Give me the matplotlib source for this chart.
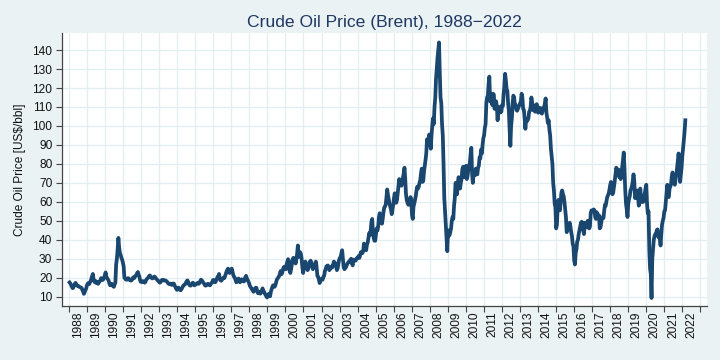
import matplotlib
matplotlib.use("Agg")
import matplotlib.pyplot as plt
import numpy as np

# Semi-monthly Brent prices (US$/bbl), two values per month
p1988 = [17.5, 17.0, 16.2, 15.4, 14.5, 14.8, 15.8, 16.8, 17.3, 16.2, 16.0, 15.6, 15.6, 15.2, 15.0, 14.8, 14.6, 13.6, 12.8, 11.5, 12.3, 13.5, 14.2, 15.8]
p1989 = [16.8, 17.2, 16.6, 17.4, 18.2, 19.5, 21.0, 22.0, 19.0, 18.0, 17.5, 18.2, 17.2, 17.8, 16.8, 17.5, 18.0, 18.6, 19.8, 19.2, 18.8, 19.2, 20.0, 21.5]
p1990 = [22.8, 20.5, 19.8, 19.0, 18.5, 17.0, 16.0, 16.5, 16.8, 16.2, 15.5, 15.2, 16.5, 17.5, 27.0, 30.0, 35.0, 41.0, 36.0, 33.0, 32.0, 30.5, 29.5, 28.0]
p1991 = [26.0, 20.0, 19.5, 19.0, 19.5, 19.0, 19.8, 19.5, 18.8, 18.6, 18.5, 18.8, 19.8, 20.2, 19.8, 20.5, 21.0, 21.5, 22.5, 23.0, 21.5, 20.5, 18.5, 17.8]
p1992 = [18.0, 17.8, 18.2, 17.9, 17.4, 17.8, 18.8, 19.4, 19.8, 20.2, 21.0, 21.2, 20.4, 20.0, 19.6, 19.8, 20.4, 20.6, 20.3, 19.6, 19.2, 18.8, 18.3, 18.0]
p1993 = [17.4, 17.6, 18.4, 18.8, 18.9, 18.5, 18.7, 18.6, 18.5, 18.2, 17.8, 17.2, 16.8, 16.6, 16.8, 16.9, 16.2, 16.5, 17.0, 16.8, 15.8, 15.0, 14.2, 13.6]
p1994 = [14.4, 14.8, 13.8, 13.6, 13.4, 14.0, 14.8, 15.5, 16.1, 16.3, 16.6, 17.4, 18.2, 18.6, 17.6, 16.6, 16.0, 15.8, 16.2, 16.8, 17.4, 17.0, 16.0, 16.2]
p1995 = [16.4, 16.8, 17.0, 17.4, 16.8, 17.3, 18.2, 19.0, 18.6, 18.2, 17.4, 17.0, 16.2, 15.8, 16.0, 16.3, 16.8, 16.5, 16.2, 16.0, 16.7, 17.2, 17.8, 18.8]
p1996 = [18.8, 17.8, 17.6, 18.4, 19.2, 20.4, 20.2, 22.0, 19.6, 18.6, 18.4, 19.0, 19.5, 20.0, 19.8, 20.8, 22.0, 23.2, 24.2, 24.8, 23.0, 22.5, 23.5, 24.0]
p1997 = [24.8, 23.2, 21.5, 20.5, 20.0, 18.8, 17.6, 17.8, 18.8, 19.6, 18.4, 17.6, 18.6, 19.2, 18.6, 19.0, 18.0, 18.6, 20.2, 21.0, 19.6, 19.0, 18.0, 17.2]
p1998 = [15.8, 15.2, 14.5, 13.8, 13.2, 12.6, 14.0, 13.5, 14.8, 14.6, 12.6, 11.8, 12.6, 12.0, 11.6, 12.2, 13.2, 14.4, 13.0, 12.6, 11.6, 11.0, 10.2, 9.6]
p1999 = [10.8, 11.4, 10.5, 10.2, 12.5, 13.8, 15.2, 16.0, 15.8, 15.2, 16.0, 17.4, 19.0, 19.6, 20.2, 20.8, 22.0, 23.5, 21.8, 22.4, 24.0, 25.5, 25.8, 25.2]
p2000 = [24.5, 27.0, 28.5, 29.8, 28.5, 23.5, 22.5, 24.5, 27.0, 29.5, 30.5, 29.0, 29.5, 27.5, 30.0, 32.5, 37.0, 31.0, 31.5, 33.5, 32.5, 30.0, 25.5, 22.5]
p2001 = [25.0, 28.0, 28.5, 27.0, 25.0, 24.0, 25.0, 27.0, 28.5, 29.0, 28.0, 26.0, 24.5, 25.5, 26.5, 27.0, 28.5, 25.5, 21.0, 20.5, 19.0, 17.2, 18.5, 19.2]
p2002 = [19.5, 19.0, 20.5, 21.0, 23.5, 24.5, 26.0, 25.5, 26.5, 25.0, 24.0, 24.8, 25.0, 26.0, 25.5, 27.0, 28.5, 28.0, 27.5, 26.0, 24.0, 25.0, 27.5, 29.5]
p2003 = [30.5, 31.0, 33.0, 34.5, 30.0, 25.5, 24.5, 25.0, 25.5, 26.5, 27.5, 28.0, 28.5, 28.5, 29.5, 30.0, 27.5, 26.5, 29.5, 29.5, 29.0, 29.0, 30.0, 30.5]
p2004 = [30.5, 31.5, 30.5, 32.0, 33.5, 33.0, 33.0, 34.0, 38.0, 37.0, 35.5, 34.5, 37.5, 38.5, 41.0, 43.5, 42.5, 45.0, 49.5, 51.0, 44.0, 41.0, 39.5, 39.5]
p2005 = [43.0, 46.0, 45.0, 47.0, 52.0, 54.0, 52.0, 51.5, 48.5, 51.0, 54.5, 57.0, 57.5, 58.5, 62.5, 66.5, 63.5, 61.5, 59.0, 57.5, 56.0, 53.5, 56.0, 58.5]
p2006 = [62.0, 64.5, 61.0, 59.5, 61.0, 64.5, 68.5, 72.0, 70.5, 69.0, 68.5, 70.0, 73.0, 75.0, 78.0, 72.0, 64.0, 61.0, 59.5, 58.5, 58.5, 60.5, 62.5, 61.5]
p2007 = [53.0, 51.0, 57.5, 59.0, 61.0, 63.0, 66.0, 68.0, 67.0, 68.0, 70.0, 71.5, 75.0, 77.5, 70.5, 71.0, 76.0, 79.0, 82.0, 85.5, 93.0, 90.0, 90.5, 95.5]
p2008 = [92.0, 88.0, 95.0, 100.0, 104.0, 101.0, 110.0, 115.0, 125.0, 130.0, 136.0, 140.0, 144.0, 128.0, 115.0, 112.0, 101.0, 95.0, 80.0, 62.0, 55.0, 49.0, 40.0, 34.0]
p2009 = [45.0, 42.0, 42.5, 44.0, 46.0, 50.0, 52.0, 51.0, 58.0, 62.0, 70.0, 69.0, 64.0, 70.0, 73.0, 72.0, 67.0, 70.0, 72.0, 77.0, 78.5, 76.5, 73.0, 77.5]
p2010 = [79.0, 72.0, 73.5, 77.0, 79.0, 80.5, 85.0, 88.5, 75.0, 70.0, 74.5, 76.0, 74.0, 77.5, 75.0, 74.5, 78.0, 79.0, 83.5, 83.0, 87.5, 85.5, 90.0, 93.5]
p2011 = [95.0, 99.0, 101.0, 112.0, 115.0, 116.0, 122.0, 126.0, 113.0, 114.0, 113.0, 111.0, 117.0, 116.5, 109.0, 113.0, 113.0, 110.0, 103.0, 110.0, 110.0, 107.0, 108.0, 107.5]
p2012 = [111.0, 110.5, 117.0, 121.0, 127.5, 124.0, 119.5, 118.5, 112.0, 108.0, 98.0, 89.5, 100.0, 104.0, 112.0, 116.0, 115.0, 111.0, 111.0, 108.5, 108.0, 109.0, 110.0, 111.0]
p2013 = [112.0, 113.0, 117.0, 115.0, 109.0, 108.5, 104.0, 98.5, 103.5, 102.5, 103.0, 104.0, 107.5, 108.0, 110.0, 115.0, 112.5, 108.5, 109.5, 108.0, 107.5, 111.0, 111.5, 110.5]
p2014 = [107.0, 107.5, 108.5, 109.5, 107.0, 106.5, 108.0, 109.5, 110.0, 112.0, 114.5, 107.0, 104.5, 101.5, 103.0, 98.0, 95.0, 88.0, 84.0, 80.0, 70.0, 66.0, 59.0, 57.0]
p2015 = [46.0, 48.0, 57.0, 61.0, 56.0, 55.5, 60.0, 65.0, 66.0, 64.0, 63.0, 60.0, 56.0, 52.0, 44.0, 45.0, 48.0, 47.5, 49.0, 47.0, 44.0, 42.0, 38.0, 36.5]
p2016 = [29.0, 27.0, 33.0, 35.0, 39.0, 40.0, 43.0, 45.0, 47.0, 49.0, 49.5, 47.0, 45.0, 43.0, 49.0, 48.0, 47.0, 46.5, 50.0, 50.0, 46.0, 47.0, 54.0, 55.5]
p2017 = [55.0, 55.0, 56.0, 55.5, 52.0, 51.0, 54.5, 52.0, 51.5, 53.0, 46.0, 46.5, 49.0, 51.5, 52.0, 51.5, 55.5, 58.5, 58.0, 60.5, 62.5, 63.5, 64.5, 66.5]
p2018 = [69.0, 70.5, 65.0, 64.0, 65.0, 68.0, 71.0, 74.5, 78.0, 77.0, 75.0, 77.0, 73.0, 74.5, 72.0, 76.0, 78.5, 82.5, 86.0, 77.0, 66.0, 59.0, 56.0, 52.0]
p2019 = [59.0, 61.5, 63.0, 66.0, 67.0, 68.5, 71.0, 74.5, 71.0, 62.0, 62.0, 64.5, 66.0, 63.0, 58.0, 60.0, 67.0, 62.0, 60.0, 60.5, 60.0, 62.5, 64.5, 67.0]
p2020 = [69.0, 59.0, 54.0, 55.0, 35.0, 25.0, 22.0, 9.3, 30.0, 35.0, 40.0, 42.0, 43.0, 43.5, 45.0, 45.5, 41.5, 41.0, 41.0, 37.0, 43.0, 48.0, 50.0, 51.5]
p2021 = [55.0, 55.5, 60.0, 65.0, 69.0, 63.0, 62.5, 67.0, 68.0, 69.5, 73.5, 75.5, 73.0, 70.0, 69.0, 72.0, 74.0, 78.0, 82.0, 85.5, 81.0, 70.5, 74.0, 78.0]
p2022 = [84.0, 88.0, 92.5, 97.0, 103.0]

series = [p1988, p1989, p1990, p1991, p1992, p1993, p1994, p1995, p1996, p1997,
          p1998, p1999, p2000, p2001, p2002, p2003, p2004, p2005, p2006, p2007,
          p2008, p2009, p2010, p2011, p2012, p2013, p2014, p2015, p2016, p2017,
          p2018, p2019, p2020, p2021, p2022]
start_year = 1988
periods_per_year = 24

price = np.concatenate([np.asarray(s, dtype=float) for s in series])
t = start_year + (np.arange(len(price)) + 0.5) / periods_per_year

year_ticks = list(range(1988, 2024))
year_labels = [str(y) for y in range(1988, 2023)]
y_ticks = list(range(10, 150, 10))

title = "Crude Oil Price (Brent), 1988\u22122022"
ylabel = "Crude Oil Price [US$/bbl]"

bg = "#eaf2f3"
navy = "#1a476f"
title_c = "#1e3763"
gridc = "#e3eef1"

plt.rcParams['font.family'] = ['Liberation Sans', 'DejaVu Sans']

fig = plt.figure(figsize=(7.2, 3.6), dpi=100, facecolor=bg)
ax = fig.add_axes([62/720, 1 - 306/360, (707 - 62)/720, (306 - 33)/360])
ax.set_facecolor("white")

ax.plot(t, price, color=navy, lw=2.7, solid_joinstyle='round', zorder=3)

ax.set_xlim(1987.6, 2023.39)
ax.set_ylim(5.1, 149.0)

ax.set_xticks(year_ticks)
ax.set_xticklabels([])
ax.set_xticks([y + 0.5 for y in range(1988, 2023)], minor=True)
ax.set_xticklabels(year_labels, minor=True, rotation=90, fontsize=8.6, color="#111111")
ax.tick_params(axis='x', which='major', length=4.5, width=0.8, color="#444444")
ax.tick_params(axis='x', which='minor', length=0, pad=4.2)

ax.set_yticks(y_ticks)
ax.set_yticklabels([str(v) for v in y_ticks], fontsize=8.6, color="#111111")
ax.tick_params(axis='y', length=4.5, width=0.8, color="#444444", pad=2.5)

ax.grid(True, which='major', color=gridc, lw=0.9, zorder=0)
ax.set_axisbelow(True)

for s in ['top', 'right']:
    ax.spines[s].set_visible(False)
for s in ['left', 'bottom']:
    ax.spines[s].set_color("#444444")
    ax.spines[s].set_linewidth(0.9)

fig.text((62 + 707) / 2 / 720, 1 - 27.3/360, title, ha='center', va='baseline',
         fontsize=12.6, color=title_c)
fig.text(20/720, 1 - 169.5/360, ylabel, rotation=90, ha='center', va='center',
         fontsize=8.6, color="#111111")

fig.savefig("out.png", dpi=100, facecolor=bg)
